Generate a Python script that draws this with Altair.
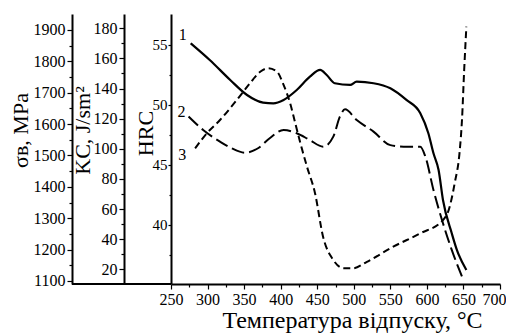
import altair as alt
import pandas as pd

# Curve 1 — hardness HRC
temp1 = [277, 303, 331, 354, 376, 390, 404, 422, 440, 454, 463, 474, 495, 504, 527, 550, 572, 591, 602, 609, 616, 622, 634, 641, 654]
hrc1 = [55.14, 53.75, 52.08, 50.83, 50.19, 50.14, 50.42, 51.25, 52.36, 52.92, 52.5, 51.81, 51.67, 51.94, 51.81, 51.39, 50.42, 49.31, 47.64, 45.97, 44.58, 42.08, 39.31, 37.92, 36.25]

# Curve 2 — tensile strength, MPa
temp2 = [274, 294, 317, 333, 351, 369, 385, 404, 422, 440, 458, 472, 481, 488, 504, 527, 550, 568, 591, 598, 609, 622, 634, 648]
sigma2 = [1624, 1581, 1544, 1523, 1509, 1523, 1555, 1581, 1571, 1549, 1528, 1560, 1624, 1647, 1613, 1576, 1533, 1528, 1528, 1496, 1390, 1284, 1199, 1114]

# Curve 3 — impact toughness KC, J/sm2
temp3 = [283, 299, 317, 340, 358, 372, 383, 395, 404, 413, 420, 427, 436, 447, 458, 472, 486, 499, 518, 554, 591, 622, 629, 638, 645, 648, 651, 654]
kc3 = [100.3, 110.3, 119.1, 132.4, 143.5, 151.2, 153.5, 151.2, 142.4, 130.2, 116.9, 103.7, 88.1, 70.5, 41.6, 26.2, 20.7, 20.7, 25.0, 35.0, 43.9, 52.7, 58.2, 77.1, 99.2, 119.1, 152.3, 181.1]

curve_names = ["1", "2", "3"]

x_ticks = list(range(250, 701, 25))
sigma_ticks = list(range(1100, 1901, 50))
kc_ticks = list(range(20, 181, 10))
hrc_ticks = [37.5, 40, 42.5, 45, 47.5, 50, 52.5, 55]

FONT = "Liberation Serif"
W, H = 329, 270

df1 = pd.DataFrame({"T": temp1, "v": hrc1})
df2 = pd.DataFrame({"T": temp2, "v": sigma2})
df3 = pd.DataFrame({"T": temp3, "v": kc3})
lab1 = pd.DataFrame({"T": [temp1[0]], "v": [hrc1[0]], "t": [curve_names[0]]})
lab2 = pd.DataFrame({"T": [temp2[0]], "v": [sigma2[0]], "t": [curve_names[1]]})
lab3 = pd.DataFrame({"T": [temp3[0]], "v": [kc3[0]], "t": [curve_names[2]]})

x_scale = alt.Scale(domain=[250, 700], nice=False, zero=False)


def tick_size(test, big=5, small=3):
    return {"condition": {"test": test, "value": big}, "value": small}


def y_axis(offset, values, test, title, title_x, title_y, title_size,
           label_size=16, big=5, small=3, pad=2):
    return alt.Axis(
        orient="left", offset=offset, values=values, format="d",
        labelExpr=f"{test} ? datum.label : ''", labelOverlap=False, labelFlush=False,
        tickSize=tick_size(test, big, small), tickColor="black", tickWidth=1.2,
        domainColor="black", domainWidth=2, grid=False,
        labelFont=FONT, labelFontSize=label_size, labelColor="black", labelPadding=pad,
        title=title, titleFont=FONT, titleFontSize=title_size, titleFontWeight="normal",
        titleColor="black", titleAngle=270, titleX=title_x, titleY=title_y,
        titleAlign="center", titleBaseline="alphabetic",
    )


x_axis = alt.Axis(
    orient="bottom", values=x_ticks, format="d",
    labelExpr="datum.value % 50 === 0 ? datum.label : ''", labelOverlap=False, labelFlush=False,
    labelAlign={"condition": {"test": "datum.value === 700", "value": "right"}, "value": "center"},
    labelOffset={"condition": {"test": "datum.value === 700", "value": 6}, "value": 0},
    tickSize=tick_size("datum.value % 50 === 0"), tickColor="black", tickWidth=1.2,
    domainColor="black", domainWidth=2, grid=False,
    labelFont=FONT, labelFontSize=16, labelColor="black", labelPadding=2,
    title="Температура відпуску, °C", titleFont=FONT, titleFontSize=24,
    titleFontWeight="normal", titleColor="black", titleX=181, titleY=43,
    titleAlign="center", titleBaseline="alphabetic",
)

X = alt.X("T:Q", scale=x_scale, axis=x_axis)

hrc_scale = alt.Scale(domain=[35.08, 57.58], nice=False, zero=False)
sig_scale = alt.Scale(domain=[1090.3, 1951], nice=False, zero=False)
kc_scale = alt.Scale(domain=[10.24, 189.5], nice=False, zero=False)

hrc_axis = y_axis(0, hrc_ticks, "datum.value % 5 === 0", "HRC", -19, 119, 22,
                  label_size=15, big=3, small=2, pad=1)
sig_axis = y_axis(99, sigma_ticks, "datum.value % 100 === 0", "σв, MPa", -45, 116, 22)
kc_axis = y_axis(47, kc_ticks, "datum.value % 20 === 0", "KC, J/sm²", -35, 116, 22)

line1 = alt.Chart(df1).mark_line(color="black", strokeWidth=2.2, interpolate="monotone").encode(
    x=X, y=alt.Y("v:Q", scale=hrc_scale, axis=hrc_axis))
text1 = alt.Chart(lab1).mark_text(font=FONT, fontSize=16, color="black", dx=-8, dy=-8).encode(
    x=X, y=alt.Y("v:Q", scale=hrc_scale, axis=hrc_axis), text="t:N")

line2 = alt.Chart(df2).mark_line(color="black", strokeWidth=2, strokeDash=[13, 5], interpolate="monotone").encode(
    x=X, y=alt.Y("v:Q", scale=sig_scale, axis=sig_axis))
text2 = alt.Chart(lab2).mark_text(font=FONT, fontSize=16, color="black", dx=-7, dy=-5).encode(
    x=X, y=alt.Y("v:Q", scale=sig_scale, axis=sig_axis), text="t:N")

line3 = alt.Chart(df3).mark_line(color="black", strokeWidth=2, strokeDash=[7, 4], interpolate="monotone").encode(
    x=X, y=alt.Y("v:Q", scale=kc_scale, axis=kc_axis))
text3 = alt.Chart(lab3).mark_text(font=FONT, fontSize=16, color="black", dx=-13, dy=7).encode(
    x=X, y=alt.Y("v:Q", scale=kc_scale, axis=kc_axis), text="t:N")

base_rule = alt.Chart(pd.DataFrame({"a": [0]})).mark_rule(color="black", strokeWidth=2).encode(
    x=alt.value(-99), x2=alt.value(0), y=alt.value(H))

chart = alt.layer(
    alt.layer(line1, text1),
    alt.layer(line2, text2),
    alt.layer(line3, text3),
    base_rule,
).resolve_scale(y="independent").properties(
    width=W, height=H,
    autosize=alt.AutoSizeParams(type="none"),
    padding={"left": 163, "top": 6, "right": 6, "bottom": 50},
    background="white",
).configure_view(stroke=None)

chart.save("out.html", embed_options={"renderer": "svg", "actions": False})
